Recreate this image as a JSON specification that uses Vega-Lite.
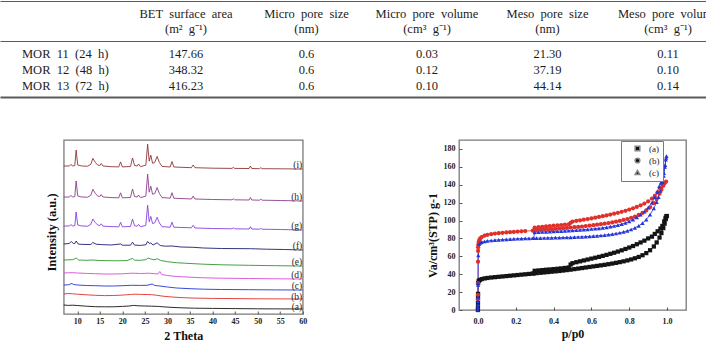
{
  "$schema": "https://vega.github.io/schema/vega-lite/v6.json",
  "padding": 0,
  "background": "white",
  "config": {
    "font": "Liberation Serif",
    "view": {"stroke": "#7a7a7a", "strokeWidth": 1.3},
    "axis": {
      "grid": false,
      "domain": false,
      "labelFont": "Liberation Serif",
      "labelFontWeight": "bold",
      "labelFontSize": 8,
      "labelColor": "#222222",
      "labelFlush": false,
      "labelOverlap": false,
      "tickColor": "#555555",
      "titleFont": "Liberation Serif",
      "titleFontWeight": "bold",
      "titleColor": "#111111"
    }
  },
  "datasets": {
    "tableHead": [
      {"r": 0, "c": 1, "t": "BET\u00a0 surface\u00a0 area\n(m²\u00a0 g⁻¹)"},
      {"r": 0, "c": 2, "t": "Micro\u00a0 pore\u00a0 size\n(nm)"},
      {"r": 0, "c": 3, "t": "Micro\u00a0 pore\u00a0 volume\n(cm³\u00a0 g⁻¹)"},
      {"r": 0, "c": 4, "t": "Meso\u00a0 pore\u00a0 size\n(nm)"},
      {"r": 0, "c": 5, "t": "Meso\u00a0 pore\u00a0 volume\n(cm³\u00a0 g⁻¹)"}
    ],
    "tableBody": [
      {"r": 1, "c": 0, "t": "MOR\u00a0 11\u00a0 (24\u00a0 h)"},
      {"r": 1, "c": 1, "t": "147.66"},
      {"r": 1, "c": 2, "t": "0.6"},
      {"r": 1, "c": 3, "t": "0.03"},
      {"r": 1, "c": 4, "t": "21.30"},
      {"r": 1, "c": 5, "t": "0.11"},
      {"r": 2, "c": 0, "t": "MOR\u00a0 12\u00a0 (48\u00a0 h)"},
      {"r": 2, "c": 1, "t": "348.32"},
      {"r": 2, "c": 2, "t": "0.6"},
      {"r": 2, "c": 3, "t": "0.12"},
      {"r": 2, "c": 4, "t": "37.19"},
      {"r": 2, "c": 5, "t": "0.10"},
      {"r": 3, "c": 0, "t": "MOR\u00a0 13\u00a0 (72\u00a0 h)"},
      {"r": 3, "c": 1, "t": "416.23"},
      {"r": 3, "c": 2, "t": "0.6"},
      {"r": 3, "c": 3, "t": "0.10"},
      {"r": 3, "c": 4, "t": "44.14"},
      {"r": 3, "c": 5, "t": "0.14"}
    ],
    "xrdLabels": [
      {"s": "i", "t": "(i)", "x": 60, "y": 149},
      {"s": "h", "t": "(h)", "x": 60, "y": 117},
      {"s": "g", "t": "(g)", "x": 60, "y": 88},
      {"s": "f", "t": "(f)", "x": 60, "y": 68},
      {"s": "e", "t": "(e)", "x": 60, "y": 52},
      {"s": "d", "t": "(d)", "x": 60, "y": 39},
      {"s": "c", "t": "(c)", "x": 60, "y": 28},
      {"s": "b", "t": "(b)", "x": 60, "y": 17},
      {"s": "a", "t": "(a)", "x": 60, "y": 7}
    ],
    "xrd": [
      {"s":"a","x":7,"y":9},{"s":"a","x":8,"y":8.6},{"s":"a","x":9,"y":8.8},{"s":"a","x":10,"y":8.5},{"s":"a","x":12,"y":7.8},{"s":"a","x":14,"y":7.3},{"s":"a","x":16,"y":7.2},{"s":"a","x":18,"y":7.2},{"s":"a","x":20,"y":7.6},{"s":"a","x":21.5,"y":8},{"s":"a","x":22.5,"y":8.6},{"s":"a","x":23.5,"y":8.2},{"s":"a","x":25,"y":8},{"s":"a","x":26.5,"y":7.8},{"s":"a","x":28,"y":7.6},{"s":"a","x":29,"y":7.2},{"s":"a","x":31,"y":6.6},{"s":"a","x":33,"y":6.2},{"s":"a","x":36,"y":5.8},{"s":"a","x":40,"y":5.6},{"s":"a","x":45,"y":5.4},{"s":"a","x":50,"y":5.2},{"s":"a","x":55,"y":5.1},{"s":"a","x":60,"y":5},
      {"s":"b","x":7,"y":20},{"s":"b","x":8,"y":20.5},{"s":"b","x":9,"y":20.2},{"s":"b","x":10,"y":19.8},{"s":"b","x":12,"y":19.2},{"s":"b","x":14,"y":18.7},{"s":"b","x":16,"y":18.4},{"s":"b","x":18,"y":18.5},{"s":"b","x":20,"y":18.9},{"s":"b","x":22,"y":19.6},{"s":"b","x":23,"y":19.8},{"s":"b","x":24,"y":19.6},{"s":"b","x":25.5,"y":19.5},{"s":"b","x":26.5,"y":19.3},{"s":"b","x":27.5,"y":18.8},{"s":"b","x":29,"y":17.8},{"s":"b","x":31,"y":17},{"s":"b","x":33,"y":16.4},{"s":"b","x":36,"y":15.9},{"s":"b","x":40,"y":15.6},{"s":"b","x":45,"y":15.4},{"s":"b","x":50,"y":15.2},{"s":"b","x":55,"y":15.1},{"s":"b","x":60,"y":15},
      {"s":"c","x":7,"y":29},{"s":"c","x":8,"y":29.2},{"s":"c","x":8.8,"y":30.5},{"s":"c","x":9.2,"y":29.5},{"s":"c","x":10,"y":29},{"s":"c","x":12,"y":28.5},{"s":"c","x":14,"y":28.3},{"s":"c","x":16,"y":28},{"s":"c","x":18,"y":28},{"s":"c","x":20,"y":28.3},{"s":"c","x":22,"y":28.7},{"s":"c","x":24,"y":28.6},{"s":"c","x":25.5,"y":28.7},{"s":"c","x":26.6,"y":30},{"s":"c","x":27.2,"y":28.5},{"s":"c","x":28,"y":28.2},{"s":"c","x":30,"y":27},{"s":"c","x":32,"y":26},{"s":"c","x":35,"y":25.3},{"s":"c","x":38,"y":24.8},{"s":"c","x":42,"y":24.5},{"s":"c","x":48,"y":24.3},{"s":"c","x":54,"y":24.1},{"s":"c","x":60,"y":24},
      {"s":"d","x":7,"y":41},{"s":"d","x":8,"y":41.2},{"s":"d","x":9,"y":41.3},{"s":"d","x":10,"y":41},{"s":"d","x":12,"y":40.6},{"s":"d","x":14,"y":40.3},{"s":"d","x":16,"y":40},{"s":"d","x":18,"y":40},{"s":"d","x":20,"y":40.2},{"s":"d","x":22,"y":40.8},{"s":"d","x":23,"y":40.7},{"s":"d","x":24,"y":40.5},{"s":"d","x":25,"y":40.6},{"s":"d","x":26,"y":40.8},{"s":"d","x":27,"y":40.3},{"s":"d","x":27.9,"y":40},{"s":"d","x":28.3,"y":42.5},{"s":"d","x":28.7,"y":39.5},{"s":"d","x":30,"y":38.5},{"s":"d","x":32,"y":37.5},{"s":"d","x":35,"y":36.8},{"s":"d","x":38,"y":36.2},{"s":"d","x":42,"y":35.8},{"s":"d","x":48,"y":35.5},{"s":"d","x":54,"y":35.2},{"s":"d","x":60,"y":35},
      {"s":"e","x":7,"y":54},{"s":"e","x":9,"y":54.3},{"s":"e","x":9.75,"y":56},{"s":"e","x":10.3,"y":54},{"s":"e","x":12,"y":53.7},{"s":"e","x":13.5,"y":54},{"s":"e","x":15,"y":53.5},{"s":"e","x":17,"y":53.3},{"s":"e","x":19,"y":53.2},{"s":"e","x":21,"y":53.4},{"s":"e","x":22.25,"y":55.6},{"s":"e","x":22.7,"y":53.8},{"s":"e","x":24,"y":53.7},{"s":"e","x":25.2,"y":54.3},{"s":"e","x":25.7,"y":56},{"s":"e","x":26.3,"y":55},{"s":"e","x":27,"y":54.2},{"s":"e","x":27.8,"y":55.2},{"s":"e","x":28.5,"y":53.5},{"s":"e","x":30,"y":52.3},{"s":"e","x":32,"y":51.3},{"s":"e","x":35,"y":50.5},{"s":"e","x":38,"y":49.8},{"s":"e","x":42,"y":49.2},{"s":"e","x":48,"y":48.7},{"s":"e","x":54,"y":48.3},{"s":"e","x":60,"y":48},
      {"s":"f","x":7,"y":70},{"s":"f","x":8.2,"y":70.5},{"s":"f","x":8.7,"y":72.5},{"s":"f","x":9.1,"y":70.5},{"s":"f","x":9.45,"y":70.5},{"s":"f","x":9.75,"y":73},{"s":"f","x":10.2,"y":70},{"s":"f","x":11,"y":69.6},{"s":"f","x":13,"y":69.5},{"s":"f","x":13.45,"y":71.5},{"s":"f","x":14.2,"y":69.8},{"s":"f","x":15.3,"y":69.4},{"s":"f","x":17.5,"y":69},{"s":"f","x":19.6,"y":70},{"s":"f","x":20,"y":68.8},{"s":"f","x":21.8,"y":68.8},{"s":"f","x":22.25,"y":71.8},{"s":"f","x":22.7,"y":68.9},{"s":"f","x":24,"y":68.6},{"s":"f","x":25.2,"y":69.2},{"s":"f","x":25.6,"y":72.5},{"s":"f","x":25.95,"y":70.6},{"s":"f","x":26.3,"y":71},{"s":"f","x":26.8,"y":69},{"s":"f","x":27.7,"y":71.2},{"s":"f","x":28.4,"y":68.5},{"s":"f","x":29.5,"y":67.8},{"s":"f","x":31,"y":68},{"s":"f","x":33,"y":67},{"s":"f","x":35.7,"y":66.7},{"s":"f","x":38,"y":66},{"s":"f","x":42,"y":65.5},{"s":"f","x":48.4,"y":65.3},{"s":"f","x":52,"y":64.8},{"s":"f","x":56,"y":64.5},{"s":"f","x":60,"y":64},
      {"s":"g","x":7,"y":88},{"s":"g","x":8.2,"y":88},{"s":"g","x":8.6,"y":89.3},{"s":"g","x":9,"y":88},{"s":"g","x":9.45,"y":88.4},{"s":"g","x":9.75,"y":102},{"s":"g","x":10.1,"y":89},{"s":"g","x":11,"y":88},{"s":"g","x":12.3,"y":87.8},{"s":"g","x":13,"y":89.6},{"s":"g","x":13.45,"y":95},{"s":"g","x":14,"y":91.4},{"s":"g","x":14.5,"y":89.1},{"s":"g","x":15,"y":88.4},{"s":"g","x":15.3,"y":90.2},{"s":"g","x":15.7,"y":87.9},{"s":"g","x":17.5,"y":87.4},{"s":"g","x":19.2,"y":87.2},{"s":"g","x":19.6,"y":91.7},{"s":"g","x":20,"y":87.2},{"s":"g","x":21.8,"y":87.5},{"s":"g","x":22.25,"y":95},{"s":"g","x":22.7,"y":88.3},{"s":"g","x":23.3,"y":87.8},{"s":"g","x":23.6,"y":89.6},{"s":"g","x":24,"y":87.3},{"s":"g","x":25.2,"y":88.6},{"s":"g","x":25.6,"y":108.8},{"s":"g","x":25.95,"y":92.2},{"s":"g","x":26.3,"y":97.6},{"s":"g","x":26.7,"y":90.4},{"s":"g","x":27.2,"y":91.3},{"s":"g","x":27.7,"y":96.7},{"s":"g","x":28.2,"y":91.1},{"s":"g","x":28.8,"y":87.3},{"s":"g","x":30.6,"y":86.8},{"s":"g","x":31,"y":91.8},{"s":"g","x":31.4,"y":86.8},{"s":"g","x":35.3,"y":86.2},{"s":"g","x":35.7,"y":88.7},{"s":"g","x":36.1,"y":86},{"s":"g","x":40,"y":85.5},{"s":"g","x":44.3,"y":85.2},{"s":"g","x":44.6,"y":86.1},{"s":"g","x":44.9,"y":85.2},{"s":"g","x":48.1,"y":85},{"s":"g","x":48.4,"y":87.3},{"s":"g","x":48.7,"y":85},{"s":"g","x":50.4,"y":84.8},{"s":"g","x":50.7,"y":85.6},{"s":"g","x":51,"y":84.8},{"s":"g","x":55,"y":84.5},{"s":"g","x":60,"y":84},
      {"s":"h","x":7,"y":117},{"s":"h","x":8.2,"y":117},{"s":"h","x":8.6,"y":118.5},{"s":"h","x":9,"y":117},{"s":"h","x":9.45,"y":117.5},{"s":"h","x":9.75,"y":133},{"s":"h","x":10.1,"y":118},{"s":"h","x":11,"y":117},{"s":"h","x":12.3,"y":116.8},{"s":"h","x":13,"y":118.7},{"s":"h","x":13.45,"y":124.7},{"s":"h","x":14,"y":120.6},{"s":"h","x":14.5,"y":118.1},{"s":"h","x":15,"y":117.5},{"s":"h","x":15.3,"y":119.5},{"s":"h","x":15.7,"y":117},{"s":"h","x":17.5,"y":116.4},{"s":"h","x":19.2,"y":116.2},{"s":"h","x":19.6,"y":121.2},{"s":"h","x":20,"y":116.2},{"s":"h","x":21.8,"y":116.5},{"s":"h","x":22.25,"y":125},{"s":"h","x":22.7,"y":117.5},{"s":"h","x":23.3,"y":117},{"s":"h","x":23.6,"y":119},{"s":"h","x":24,"y":116.4},{"s":"h","x":25.2,"y":117.8},{"s":"h","x":25.6,"y":139.8},{"s":"h","x":25.95,"y":121.8},{"s":"h","x":26.3,"y":127.8},{"s":"h","x":26.7,"y":119.7},{"s":"h","x":27.2,"y":120.6},{"s":"h","x":27.7,"y":126.5},{"s":"h","x":28.2,"y":120.5},{"s":"h","x":28.8,"y":116.5},{"s":"h","x":30.6,"y":115.8},{"s":"h","x":31,"y":121.3},{"s":"h","x":31.4,"y":115.8},{"s":"h","x":35.3,"y":115},{"s":"h","x":35.7,"y":118},{"s":"h","x":36.1,"y":115},{"s":"h","x":40,"y":114.5},{"s":"h","x":44.3,"y":114.2},{"s":"h","x":44.6,"y":115.2},{"s":"h","x":44.9,"y":114.2},{"s":"h","x":48.1,"y":114},{"s":"h","x":48.4,"y":116.5},{"s":"h","x":48.7,"y":114},{"s":"h","x":50.4,"y":113.8},{"s":"h","x":50.7,"y":114.8},{"s":"h","x":51,"y":113.8},{"s":"h","x":55,"y":113.5},{"s":"h","x":60,"y":113},
      {"s":"i","x":7,"y":148},{"s":"i","x":8.2,"y":148},{"s":"i","x":8.6,"y":149.5},{"s":"i","x":9,"y":148},{"s":"i","x":9.45,"y":148.5},{"s":"i","x":9.75,"y":164},{"s":"i","x":10.1,"y":149},{"s":"i","x":11,"y":148},{"s":"i","x":12.3,"y":147.8},{"s":"i","x":13,"y":149.7},{"s":"i","x":13.45,"y":155.7},{"s":"i","x":14,"y":151.6},{"s":"i","x":14.5,"y":149.1},{"s":"i","x":15,"y":148.5},{"s":"i","x":15.3,"y":150.5},{"s":"i","x":15.7,"y":148},{"s":"i","x":17.5,"y":147.3},{"s":"i","x":19.2,"y":147.1},{"s":"i","x":19.6,"y":152.1},{"s":"i","x":20,"y":147.1},{"s":"i","x":21.8,"y":147.5},{"s":"i","x":22.25,"y":156},{"s":"i","x":22.7,"y":148.5},{"s":"i","x":23.3,"y":148},{"s":"i","x":23.6,"y":150},{"s":"i","x":24,"y":147.4},{"s":"i","x":25.2,"y":148.8},{"s":"i","x":25.6,"y":169.8},{"s":"i","x":25.95,"y":152.8},{"s":"i","x":26.3,"y":158.8},{"s":"i","x":26.7,"y":150.7},{"s":"i","x":27.2,"y":151.7},{"s":"i","x":27.7,"y":157.6},{"s":"i","x":28.2,"y":151.6},{"s":"i","x":28.8,"y":147.6},{"s":"i","x":30.6,"y":147},{"s":"i","x":31,"y":152.5},{"s":"i","x":31.4,"y":147},{"s":"i","x":35.3,"y":146.3},{"s":"i","x":35.7,"y":149},{"s":"i","x":36.1,"y":146.3},{"s":"i","x":40,"y":145.8},{"s":"i","x":44.3,"y":145.6},{"s":"i","x":44.6,"y":146.6},{"s":"i","x":44.9,"y":145.6},{"s":"i","x":48.1,"y":145.5},{"s":"i","x":48.4,"y":148},{"s":"i","x":48.7,"y":145.5},{"s":"i","x":50.4,"y":145.3},{"s":"i","x":50.7,"y":146.3},{"s":"i","x":51,"y":145.3},{"s":"i","x":55,"y":145.2},{"s":"i","x":60,"y":145}
    ],
    "iso": [
      {"k":"(a)","b":"ad","p":0,"v":0},{"k":"(a)","b":"ad","p":0.0002,"v":3},{"k":"(a)","b":"ad","p":0.0004,"v":8},{"k":"(a)","b":"ad","p":0.0006,"v":14},{"k":"(a)","b":"ad","p":0.0008,"v":18},{"k":"(a)","b":"ad","p":0.001,"v":30},{"k":"(a)","b":"ad","p":0.004,"v":32.5},{"k":"(a)","b":"ad","p":0.01,"v":33.5},{"k":"(a)","b":"ad","p":0.02,"v":34.5},{"k":"(a)","b":"ad","p":0.035,"v":35.3},{"k":"(a)","b":"ad","p":0.05,"v":35.8},{"k":"(a)","b":"ad","p":0.07,"v":36.3},{"k":"(a)","b":"ad","p":0.09,"v":36.7},{"k":"(a)","b":"ad","p":0.11,"v":37.1},{"k":"(a)","b":"ad","p":0.13,"v":37.5},{"k":"(a)","b":"ad","p":0.15,"v":37.9},{"k":"(a)","b":"ad","p":0.17,"v":38.3},{"k":"(a)","b":"ad","p":0.19,"v":38.7},{"k":"(a)","b":"ad","p":0.21,"v":39.1},{"k":"(a)","b":"ad","p":0.23,"v":39.5},{"k":"(a)","b":"ad","p":0.25,"v":39.9},{"k":"(a)","b":"ad","p":0.27,"v":40.3},{"k":"(a)","b":"ad","p":0.29,"v":40.7},{"k":"(a)","b":"ad","p":0.31,"v":41.2},{"k":"(a)","b":"ad","p":0.33,"v":41.6},{"k":"(a)","b":"ad","p":0.35,"v":42},{"k":"(a)","b":"ad","p":0.37,"v":42.4},{"k":"(a)","b":"ad","p":0.39,"v":42.8},{"k":"(a)","b":"ad","p":0.41,"v":43.2},{"k":"(a)","b":"ad","p":0.43,"v":43.6},{"k":"(a)","b":"ad","p":0.45,"v":44.1},{"k":"(a)","b":"ad","p":0.47,"v":44.6},{"k":"(a)","b":"ad","p":0.49,"v":45.1},{"k":"(a)","b":"ad","p":0.51,"v":45.7},{"k":"(a)","b":"ad","p":0.53,"v":46.3},{"k":"(a)","b":"ad","p":0.55,"v":46.9},{"k":"(a)","b":"ad","p":0.57,"v":47.5},{"k":"(a)","b":"ad","p":0.59,"v":48.1},{"k":"(a)","b":"ad","p":0.61,"v":48.7},{"k":"(a)","b":"ad","p":0.63,"v":49.3},{"k":"(a)","b":"ad","p":0.65,"v":49.9},{"k":"(a)","b":"ad","p":0.67,"v":50.5},{"k":"(a)","b":"ad","p":0.69,"v":51.2},{"k":"(a)","b":"ad","p":0.71,"v":51.9},{"k":"(a)","b":"ad","p":0.73,"v":52.7},{"k":"(a)","b":"ad","p":0.75,"v":53.5},{"k":"(a)","b":"ad","p":0.77,"v":54.4},{"k":"(a)","b":"ad","p":0.79,"v":55.4},{"k":"(a)","b":"ad","p":0.81,"v":56.5},{"k":"(a)","b":"ad","p":0.83,"v":57.8},{"k":"(a)","b":"ad","p":0.85,"v":59.3},{"k":"(a)","b":"ad","p":0.87,"v":61.2},{"k":"(a)","b":"ad","p":0.89,"v":63.6},{"k":"(a)","b":"ad","p":0.91,"v":66.8},{"k":"(a)","b":"ad","p":0.93,"v":71},{"k":"(a)","b":"ad","p":0.945,"v":75.5},{"k":"(a)","b":"ad","p":0.96,"v":81},{"k":"(a)","b":"ad","p":0.97,"v":86},{"k":"(a)","b":"ad","p":0.98,"v":91.5},{"k":"(a)","b":"ad","p":0.987,"v":96.5},{"k":"(a)","b":"ad","p":0.993,"v":101.5},{"k":"(a)","b":"ad","p":0.997,"v":105},
      {"k":"(a)","b":"de","p":0.295,"v":41},{"k":"(a)","b":"de","p":0.3,"v":43.8},{"k":"(a)","b":"de","p":0.32,"v":44.2},{"k":"(a)","b":"de","p":0.34,"v":44.6},{"k":"(a)","b":"de","p":0.36,"v":45},{"k":"(a)","b":"de","p":0.38,"v":45.3},{"k":"(a)","b":"de","p":0.4,"v":45.7},{"k":"(a)","b":"de","p":0.42,"v":46.1},{"k":"(a)","b":"de","p":0.44,"v":46.5},{"k":"(a)","b":"de","p":0.46,"v":47},{"k":"(a)","b":"de","p":0.48,"v":47.5},{"k":"(a)","b":"de","p":0.49,"v":50.8},{"k":"(a)","b":"de","p":0.5,"v":52.3},{"k":"(a)","b":"de","p":0.52,"v":53.4},{"k":"(a)","b":"de","p":0.54,"v":54.4},{"k":"(a)","b":"de","p":0.56,"v":55.4},{"k":"(a)","b":"de","p":0.58,"v":56.4},{"k":"(a)","b":"de","p":0.6,"v":57.4},{"k":"(a)","b":"de","p":0.62,"v":58.4},{"k":"(a)","b":"de","p":0.64,"v":59.4},{"k":"(a)","b":"de","p":0.66,"v":60.5},{"k":"(a)","b":"de","p":0.68,"v":61.6},{"k":"(a)","b":"de","p":0.7,"v":62.8},{"k":"(a)","b":"de","p":0.72,"v":64},{"k":"(a)","b":"de","p":0.74,"v":65.3},{"k":"(a)","b":"de","p":0.76,"v":66.7},{"k":"(a)","b":"de","p":0.78,"v":68.2},{"k":"(a)","b":"de","p":0.8,"v":69.8},{"k":"(a)","b":"de","p":0.82,"v":71.5},{"k":"(a)","b":"de","p":0.84,"v":73.5},{"k":"(a)","b":"de","p":0.86,"v":75.5},{"k":"(a)","b":"de","p":0.88,"v":77.5},{"k":"(a)","b":"de","p":0.9,"v":80},{"k":"(a)","b":"de","p":0.92,"v":82},{"k":"(a)","b":"de","p":0.935,"v":85},{"k":"(a)","b":"de","p":0.95,"v":88},{"k":"(a)","b":"de","p":0.965,"v":91},{"k":"(a)","b":"de","p":0.975,"v":94},{"k":"(a)","b":"de","p":0.985,"v":99},{"k":"(a)","b":"de","p":0.992,"v":103},{"k":"(a)","b":"de","p":0.998,"v":105},
      {"k":"(b)","b":"ad","p":0,"v":12},{"k":"(b)","b":"ad","p":0.0002,"v":17},{"k":"(b)","b":"ad","p":0.0004,"v":30},{"k":"(b)","b":"ad","p":0.0006,"v":54},{"k":"(b)","b":"ad","p":0.0008,"v":66},{"k":"(b)","b":"ad","p":0.001,"v":70},{"k":"(b)","b":"ad","p":0.002,"v":73},{"k":"(b)","b":"ad","p":0.004,"v":76},{"k":"(b)","b":"ad","p":0.007,"v":78},{"k":"(b)","b":"ad","p":0.012,"v":80},{"k":"(b)","b":"ad","p":0.02,"v":81.5},{"k":"(b)","b":"ad","p":0.035,"v":83},{"k":"(b)","b":"ad","p":0.05,"v":84},{"k":"(b)","b":"ad","p":0.07,"v":84.8},{"k":"(b)","b":"ad","p":0.09,"v":85.4},{"k":"(b)","b":"ad","p":0.11,"v":85.9},{"k":"(b)","b":"ad","p":0.13,"v":86.3},{"k":"(b)","b":"ad","p":0.15,"v":86.7},{"k":"(b)","b":"ad","p":0.17,"v":87},{"k":"(b)","b":"ad","p":0.19,"v":87.3},{"k":"(b)","b":"ad","p":0.21,"v":87.6},{"k":"(b)","b":"ad","p":0.23,"v":87.9},{"k":"(b)","b":"ad","p":0.25,"v":88.2},{"k":"(b)","b":"ad","p":0.295,"v":88.8},{"k":"(b)","b":"ad","p":0.31,"v":89.3},{"k":"(b)","b":"ad","p":0.33,"v":89.6},{"k":"(b)","b":"ad","p":0.35,"v":89.9},{"k":"(b)","b":"ad","p":0.37,"v":90.2},{"k":"(b)","b":"ad","p":0.39,"v":90.5},{"k":"(b)","b":"ad","p":0.41,"v":90.8},{"k":"(b)","b":"ad","p":0.43,"v":91.1},{"k":"(b)","b":"ad","p":0.45,"v":91.4},{"k":"(b)","b":"ad","p":0.47,"v":91.7},{"k":"(b)","b":"ad","p":0.49,"v":92.1},{"k":"(b)","b":"ad","p":0.51,"v":92.5},{"k":"(b)","b":"ad","p":0.53,"v":92.9},{"k":"(b)","b":"ad","p":0.55,"v":93.3},{"k":"(b)","b":"ad","p":0.57,"v":93.8},{"k":"(b)","b":"ad","p":0.59,"v":94.3},{"k":"(b)","b":"ad","p":0.61,"v":94.8},{"k":"(b)","b":"ad","p":0.63,"v":95.3},{"k":"(b)","b":"ad","p":0.65,"v":95.9},{"k":"(b)","b":"ad","p":0.67,"v":96.5},{"k":"(b)","b":"ad","p":0.69,"v":97.2},{"k":"(b)","b":"ad","p":0.71,"v":97.9},{"k":"(b)","b":"ad","p":0.73,"v":98.7},{"k":"(b)","b":"ad","p":0.75,"v":99.6},{"k":"(b)","b":"ad","p":0.77,"v":100.6},{"k":"(b)","b":"ad","p":0.79,"v":101.7},{"k":"(b)","b":"ad","p":0.81,"v":103},{"k":"(b)","b":"ad","p":0.83,"v":104.5},{"k":"(b)","b":"ad","p":0.85,"v":106.3},{"k":"(b)","b":"ad","p":0.87,"v":108.5},{"k":"(b)","b":"ad","p":0.89,"v":111.3},{"k":"(b)","b":"ad","p":0.91,"v":114.8},{"k":"(b)","b":"ad","p":0.93,"v":119.5},{"k":"(b)","b":"ad","p":0.945,"v":124},{"k":"(b)","b":"ad","p":0.96,"v":130},{"k":"(b)","b":"ad","p":0.97,"v":134.5},{"k":"(b)","b":"ad","p":0.98,"v":139},{"k":"(b)","b":"ad","p":0.99,"v":142.5},
      {"k":"(b)","b":"de","p":0.29,"v":88.6},{"k":"(b)","b":"de","p":0.3,"v":92.2},{"k":"(b)","b":"de","p":0.32,"v":92.6},{"k":"(b)","b":"de","p":0.34,"v":93},{"k":"(b)","b":"de","p":0.36,"v":93.4},{"k":"(b)","b":"de","p":0.38,"v":93.8},{"k":"(b)","b":"de","p":0.4,"v":94.2},{"k":"(b)","b":"de","p":0.42,"v":94.6},{"k":"(b)","b":"de","p":0.44,"v":95},{"k":"(b)","b":"de","p":0.46,"v":95.4},{"k":"(b)","b":"de","p":0.48,"v":95.8},{"k":"(b)","b":"de","p":0.49,"v":97.5},{"k":"(b)","b":"de","p":0.5,"v":98.9},{"k":"(b)","b":"de","p":0.52,"v":99.6},{"k":"(b)","b":"de","p":0.54,"v":100.3},{"k":"(b)","b":"de","p":0.56,"v":101},{"k":"(b)","b":"de","p":0.58,"v":101.7},{"k":"(b)","b":"de","p":0.6,"v":102.4},{"k":"(b)","b":"de","p":0.62,"v":103.2},{"k":"(b)","b":"de","p":0.64,"v":104},{"k":"(b)","b":"de","p":0.66,"v":104.8},{"k":"(b)","b":"de","p":0.68,"v":105.7},{"k":"(b)","b":"de","p":0.7,"v":106.6},{"k":"(b)","b":"de","p":0.72,"v":107.6},{"k":"(b)","b":"de","p":0.74,"v":108.6},{"k":"(b)","b":"de","p":0.76,"v":109.7},{"k":"(b)","b":"de","p":0.78,"v":110.9},{"k":"(b)","b":"de","p":0.8,"v":112.2},{"k":"(b)","b":"de","p":0.82,"v":113.6},{"k":"(b)","b":"de","p":0.84,"v":115.2},{"k":"(b)","b":"de","p":0.86,"v":117},{"k":"(b)","b":"de","p":0.88,"v":119},{"k":"(b)","b":"de","p":0.9,"v":121.5},{"k":"(b)","b":"de","p":0.92,"v":124.5},{"k":"(b)","b":"de","p":0.935,"v":127.5},{"k":"(b)","b":"de","p":0.95,"v":131.5},{"k":"(b)","b":"de","p":0.965,"v":136},{"k":"(b)","b":"de","p":0.975,"v":139},{"k":"(b)","b":"de","p":0.985,"v":141.5},{"k":"(b)","b":"de","p":0.995,"v":143.5},
      {"k":"(c)","b":"ad","p":0,"v":0},{"k":"(c)","b":"ad","p":0.0002,"v":3},{"k":"(c)","b":"ad","p":0.0004,"v":6},{"k":"(c)","b":"ad","p":0.0006,"v":10},{"k":"(c)","b":"ad","p":0.0008,"v":14},{"k":"(c)","b":"ad","p":0.001,"v":28},{"k":"(c)","b":"ad","p":0.0012,"v":30},{"k":"(c)","b":"ad","p":0.002,"v":61},{"k":"(c)","b":"ad","p":0.006,"v":73.5},{"k":"(c)","b":"ad","p":0.012,"v":75},{"k":"(c)","b":"ad","p":0.02,"v":75.8},{"k":"(c)","b":"ad","p":0.035,"v":76.6},{"k":"(c)","b":"ad","p":0.05,"v":77.2},{"k":"(c)","b":"ad","p":0.07,"v":77.7},{"k":"(c)","b":"ad","p":0.09,"v":78.1},{"k":"(c)","b":"ad","p":0.11,"v":78.4},{"k":"(c)","b":"ad","p":0.13,"v":78.7},{"k":"(c)","b":"ad","p":0.15,"v":79},{"k":"(c)","b":"ad","p":0.17,"v":79.2},{"k":"(c)","b":"ad","p":0.19,"v":79.4},{"k":"(c)","b":"ad","p":0.21,"v":79.6},{"k":"(c)","b":"ad","p":0.23,"v":79.8},{"k":"(c)","b":"ad","p":0.25,"v":80},{"k":"(c)","b":"ad","p":0.27,"v":80.1},{"k":"(c)","b":"ad","p":0.29,"v":80.2},{"k":"(c)","b":"ad","p":0.31,"v":80.3},{"k":"(c)","b":"ad","p":0.33,"v":80.4},{"k":"(c)","b":"ad","p":0.35,"v":80.5},{"k":"(c)","b":"ad","p":0.37,"v":80.6},{"k":"(c)","b":"ad","p":0.39,"v":80.7},{"k":"(c)","b":"ad","p":0.41,"v":80.8},{"k":"(c)","b":"ad","p":0.43,"v":80.9},{"k":"(c)","b":"ad","p":0.45,"v":81},{"k":"(c)","b":"ad","p":0.47,"v":81.1},{"k":"(c)","b":"ad","p":0.49,"v":81.2},{"k":"(c)","b":"ad","p":0.51,"v":81.4},{"k":"(c)","b":"ad","p":0.53,"v":81.6},{"k":"(c)","b":"ad","p":0.55,"v":81.8},{"k":"(c)","b":"ad","p":0.57,"v":82},{"k":"(c)","b":"ad","p":0.59,"v":82.3},{"k":"(c)","b":"ad","p":0.61,"v":82.6},{"k":"(c)","b":"ad","p":0.63,"v":82.9},{"k":"(c)","b":"ad","p":0.65,"v":83.3},{"k":"(c)","b":"ad","p":0.67,"v":83.7},{"k":"(c)","b":"ad","p":0.69,"v":84.2},{"k":"(c)","b":"ad","p":0.71,"v":84.8},{"k":"(c)","b":"ad","p":0.73,"v":85.5},{"k":"(c)","b":"ad","p":0.75,"v":86.3},{"k":"(c)","b":"ad","p":0.77,"v":87.3},{"k":"(c)","b":"ad","p":0.79,"v":88.5},{"k":"(c)","b":"ad","p":0.81,"v":90},{"k":"(c)","b":"ad","p":0.83,"v":91.8},{"k":"(c)","b":"ad","p":0.85,"v":94},{"k":"(c)","b":"ad","p":0.87,"v":97},{"k":"(c)","b":"ad","p":0.89,"v":101},{"k":"(c)","b":"ad","p":0.91,"v":106.5},{"k":"(c)","b":"ad","p":0.93,"v":113.5},{"k":"(c)","b":"ad","p":0.945,"v":120.5},{"k":"(c)","b":"ad","p":0.955,"v":126},{"k":"(c)","b":"ad","p":0.965,"v":133},{"k":"(c)","b":"ad","p":0.975,"v":143},{"k":"(c)","b":"ad","p":0.983,"v":153},{"k":"(c)","b":"ad","p":0.99,"v":162},{"k":"(c)","b":"ad","p":0.995,"v":170},
      {"k":"(c)","b":"de","p":0.295,"v":80.2},{"k":"(c)","b":"de","p":0.3,"v":86.8},{"k":"(c)","b":"de","p":0.32,"v":87},{"k":"(c)","b":"de","p":0.34,"v":87.2},{"k":"(c)","b":"de","p":0.36,"v":87.4},{"k":"(c)","b":"de","p":0.38,"v":87.6},{"k":"(c)","b":"de","p":0.4,"v":87.8},{"k":"(c)","b":"de","p":0.42,"v":88},{"k":"(c)","b":"de","p":0.44,"v":88.2},{"k":"(c)","b":"de","p":0.46,"v":88.4},{"k":"(c)","b":"de","p":0.48,"v":88.6},{"k":"(c)","b":"de","p":0.5,"v":88.9},{"k":"(c)","b":"de","p":0.52,"v":89.2},{"k":"(c)","b":"de","p":0.54,"v":89.5},{"k":"(c)","b":"de","p":0.56,"v":89.8},{"k":"(c)","b":"de","p":0.58,"v":90.1},{"k":"(c)","b":"de","p":0.6,"v":90.5},{"k":"(c)","b":"de","p":0.62,"v":90.9},{"k":"(c)","b":"de","p":0.64,"v":91.3},{"k":"(c)","b":"de","p":0.66,"v":91.8},{"k":"(c)","b":"de","p":0.68,"v":92.4},{"k":"(c)","b":"de","p":0.7,"v":93.1},{"k":"(c)","b":"de","p":0.72,"v":93.9},{"k":"(c)","b":"de","p":0.74,"v":94.9},{"k":"(c)","b":"de","p":0.76,"v":96},{"k":"(c)","b":"de","p":0.78,"v":97.3},{"k":"(c)","b":"de","p":0.8,"v":99},{"k":"(c)","b":"de","p":0.82,"v":101},{"k":"(c)","b":"de","p":0.84,"v":103.5},{"k":"(c)","b":"de","p":0.86,"v":106.5},{"k":"(c)","b":"de","p":0.88,"v":110},{"k":"(c)","b":"de","p":0.9,"v":114.5},{"k":"(c)","b":"de","p":0.92,"v":120},{"k":"(c)","b":"de","p":0.935,"v":126},{"k":"(c)","b":"de","p":0.948,"v":132},{"k":"(c)","b":"de","p":0.958,"v":138},{"k":"(c)","b":"de","p":0.967,"v":142},{"k":"(c)","b":"de","p":0.975,"v":144},{"k":"(c)","b":"de","p":0.982,"v":150},{"k":"(c)","b":"de","p":0.988,"v":160},{"k":"(c)","b":"de","p":0.993,"v":168},{"k":"(c)","b":"de","p":0.997,"v":172}
    ]
  },
  "spacing": 29,
  "vconcat": [
    {
      "width": 706,
      "height": 110,
      "view": {"stroke": null},
      "encoding": {
        "x": {"field": "c", "type": "quantitative", "scale": {"domain": [-0.5436, 5.3154], "nice": false, "zero": false}, "axis": null},
        "y": {
          "field": "r", "type": "quantitative",
          "scale": {"domain": [-2.375, 4.5], "reverse": true, "nice": false, "zero": false},
          "axis": {
            "title": null, "labels": false, "ticks": false, "domain": false,
            "grid": true, "values": [-2.3, 0.16, 3.69],
            "gridColor": "#5a5a5a",
            "gridWidth": {"condition": {"test": "datum.value > 3", "value": 1.8}, "value": 1}
          }
        }
      },
      "layer": [
        {
          "data": {"name": "tableHead"},
          "mark": {"type": "text", "align": "center", "baseline": "middle", "dy": -24, "lineBreak": "\n", "lineHeight": 15, "font": "Liberation Serif", "fontSize": 12.5, "color": "#1c1c1c"},
          "encoding": {
            "text": {"field": "t"}
          }
        },
        {
          "data": {"name": "tableBody"},
          "transform": [{"filter": "datum.c === 0"}],
          "mark": {"type": "text", "align": "left", "baseline": "middle", "dx": -43.5, "font": "Liberation Serif", "fontSize": 12.5, "color": "#1c1c1c"},
          "encoding": {
            "text": {"field": "t"}
          }
        },
        {
          "data": {"name": "tableBody"},
          "transform": [{"filter": "datum.c > 0"}],
          "mark": {"type": "text", "align": "center", "baseline": "middle", "font": "Liberation Serif", "fontSize": 12.5, "color": "#1c1c1c"},
          "encoding": {
            "text": {"field": "t"}
          }
        }
      ]
    },
    {
      "spacing": 117,
      "hconcat": [
        {
          "spacing": 23.75,
          "hconcat": [
            {
              "width": 20,
              "height": 10,
              "view": {"stroke": null},
              "data": {"values": []},
              "mark": "text",
              "encoding": {}
            },
            {
              "width": 239,
              "height": 174,
              "encoding": {
                "x": {
                  "field": "x", "type": "quantitative",
                  "scale": {"domain": [7, 60], "nice": false, "zero": false},
                  "axis": {"title": "2 Theta", "values": [10, 15, 20, 25, 30, 35, 40, 45, 50, 55, 60], "tickSize": -3, "labelPadding": 6, "labelOverlap": false, "titlePadding": 5, "titleFontSize": 12}
                },
                "y": {
                  "field": "y", "type": "quantitative",
                  "scale": {"domain": [0, 174], "nice": false},
                  "axis": {"title": "Intensity (a.u.)", "labels": false, "ticks": false, "titlePadding": 5.75, "titleY": 92, "titleFontSize": 12.5}
                }
              },
              "layer": [
                {
                  "data": {"name": "xrd"},
                  "mark": {"type": "line", "strokeWidth": 0.9},
                  "encoding": {
                    "color": {
                      "field": "s", "type": "nominal",
                      "scale": {"domain": ["a", "b", "c", "d", "e", "f", "g", "h", "i"], "range": ["#141414", "#e0302a", "#2436d6", "#d84ad8", "#2e962e", "#1e1e6e", "#8a40dc", "#8c3d8c", "#8e3535"]},
                      "legend": null
                    }
                  }
                },
                {
                  "data": {"name": "xrdLabels"},
                  "mark": {"type": "text", "align": "right", "baseline": "middle", "dx": -0.5, "font": "Liberation Serif", "fontSize": 9.5, "color": "#262626"},
                  "encoding": {
                    "text": {"field": "t"}
                  }
                }
              ]
            }
          ]
        },
        {
          "width": 227,
          "height": 170,
          "data": {"name": "iso"},
          "encoding": {
            "x": {
              "field": "p", "type": "quantitative",
              "scale": {"domain": [-0.1, 1.1], "nice": false, "zero": false},
              "axis": {"title": "p/p0", "values": [0, 0.2, 0.4, 0.6, 0.8, 1], "format": ".1f", "tickSize": -3, "labelPadding": 10, "labelOverlap": false, "titlePadding": 3, "titleFontSize": 12}
            },
            "y": {
              "field": "v", "type": "quantitative",
              "scale": {"domain": [0, 190], "nice": false},
              "axis": {"title": "Va/cm³(STP) g-1", "values": [0, 20, 40, 60, 80, 100, 120, 140, 160, 180], "tickSize": -3, "labelPadding": 7, "labelOverlap": false, "titlePadding": 4, "titleY": 95, "titleFontSize": 12}
            }
          },
          "layer": [
            {
              "transform": [{"filter": "datum.k === '(a)'"}],
              "mark": {"type": "line", "strokeWidth": 0.8, "color": "#111111"},
              "encoding": {"detail": {"field": "b"}}
            },
            {
              "transform": [{"filter": "datum.k === '(b)'"}],
              "mark": {"type": "line", "strokeWidth": 0.8, "color": "#ee1d23"},
              "encoding": {"detail": {"field": "b"}}
            },
            {
              "transform": [{"filter": "datum.k === '(c)'"}],
              "mark": {"type": "line", "strokeWidth": 0.8, "color": "#1f2fe6"},
              "encoding": {"detail": {"field": "b"}}
            },
            {
              "mark": {"type": "point", "filled": true, "opacity": 1, "size": 18},
              "encoding": {
                "color": {
                  "field": "k", "type": "nominal",
                  "scale": {"domain": ["(a)", "(b)", "(c)"], "range": ["#111111", "#ee1d23", "#1f2fe6"]},
                  "legend": {"title": null, "orient": "none", "legendX": 621, "legendY": 141, "strokeColor": "#7a7a7a", "fillColor": "white", "padding": 3, "rowPadding": 1, "symbolSize": 22, "symbolOffset": 9, "labelOffset": 7, "symbolFillColor": "#111111", "labelFont": "Liberation Serif", "labelFontSize": 9, "labelColor": "#222222"}
                },
                "shape": {
                  "field": "k", "type": "nominal",
                  "scale": {"domain": ["(a)", "(b)", "(c)"], "range": ["square", "circle", "triangle-up"]},
                  "legend": {"title": null, "orient": "none", "legendX": 621, "legendY": 141, "strokeColor": "#7a7a7a", "fillColor": "white", "padding": 3, "rowPadding": 1, "symbolSize": 22, "symbolOffset": 9, "labelOffset": 7, "symbolFillColor": "#111111", "labelFont": "Liberation Serif", "labelFontSize": 9, "labelColor": "#222222"}
                }
              }
            }
          ]
        }
      ]
    }
  ]
}
